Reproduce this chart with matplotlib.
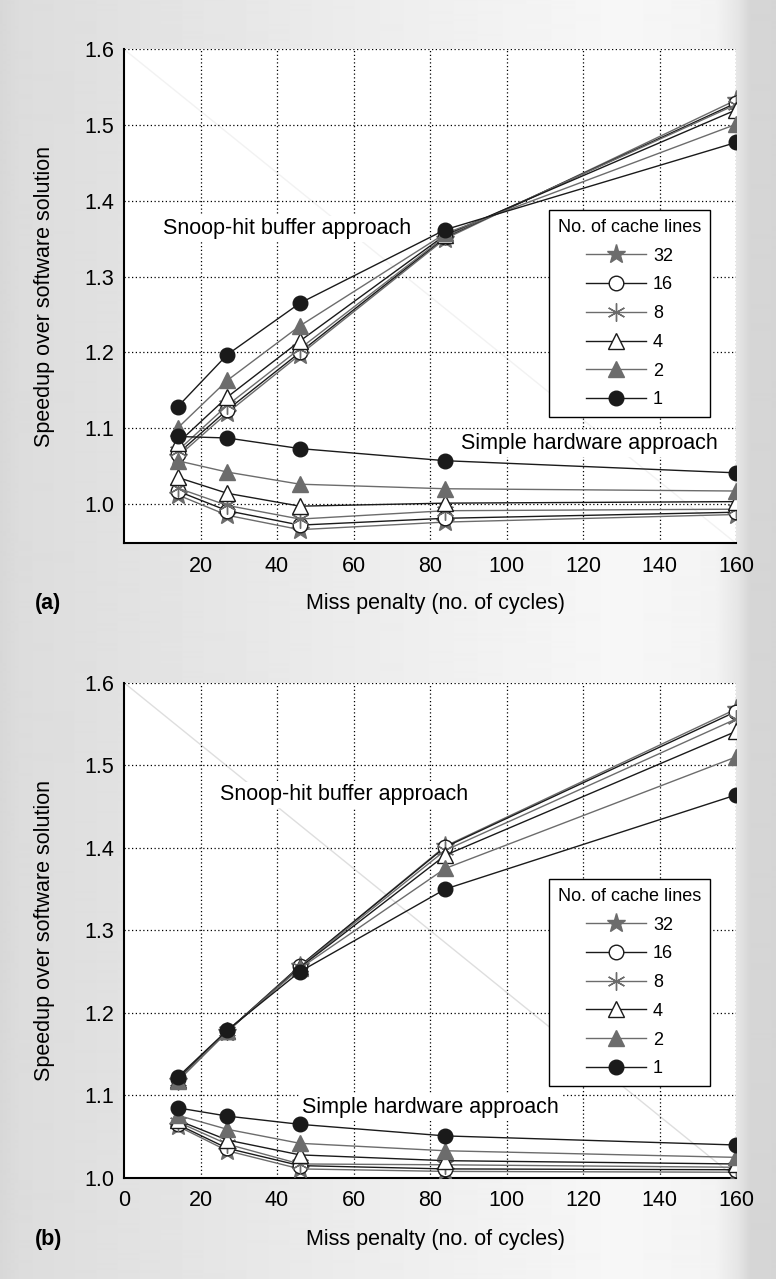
import numpy as np
import matplotlib
matplotlib.use('Agg')
import matplotlib.pyplot as plt

plt.rcParams['font.family'] = ['Liberation Sans', 'DejaVu Sans']

# miss penalty (cycles) on the x axis
miss_penalty = [14, 27, 46, 84, 160]
cache_lines = ['32', '16', '8', '4', '2', '1']

# panel (a)
snoop_a = {
	'32': [1.062, 1.120, 1.197, 1.350, 1.533],
	'16': [1.066, 1.124, 1.200, 1.352, 1.529],
	'8':  [1.070, 1.130, 1.205, 1.353, 1.527],
	'4':  [1.080, 1.141, 1.215, 1.355, 1.520],
	'2':  [1.100, 1.163, 1.235, 1.357, 1.501],
	'1':  [1.128, 1.197, 1.265, 1.362, 1.477],
}
simple_a = {
	'32': [1.012, 0.985, 0.966, 0.976, 0.986],
	'16': [1.017, 0.991, 0.972, 0.981, 0.989],
	'8':  [1.021, 0.998, 0.980, 0.991, 0.993],
	'4':  [1.035, 1.014, 0.997, 1.001, 1.003],
	'2':  [1.057, 1.042, 1.026, 1.020, 1.017],
	'1':  [1.089, 1.087, 1.073, 1.057, 1.041],
}

# panel (b)
snoop_b = {
	'32': [1.117, 1.177, 1.257, 1.402, 1.568],
	'16': [1.120, 1.178, 1.257, 1.401, 1.565],
	'8':  [1.118, 1.178, 1.256, 1.397, 1.556],
	'4':  [1.119, 1.178, 1.255, 1.391, 1.541],
	'2':  [1.118, 1.178, 1.254, 1.375, 1.510],
	'1':  [1.122, 1.179, 1.250, 1.350, 1.464],
}
simple_b = {
	'32': [1.063, 1.033, 1.011, 1.008, 1.007],
	'16': [1.065, 1.036, 1.015, 1.011, 1.010],
	'8':  [1.068, 1.041, 1.017, 1.016, 1.013],
	'4':  [1.070, 1.046, 1.028, 1.021, 1.017],
	'2':  [1.076, 1.059, 1.042, 1.033, 1.025],
	'1':  [1.085, 1.075, 1.065, 1.051, 1.040],
}

dark = '#1a1a1a'
grey = '#6c6c6c'
styles = {
	'32': dict(color=grey, marker='*', mfc=grey, mec=grey, ms=14),
	'16': dict(color=dark, marker='o', mfc='white', mec=dark, ms=10.5),
	'8':  dict(color=grey, marker=(6, 2, 0), mec=grey, ms=13),
	'4':  dict(color=dark, marker='^', mfc='white', mec=dark, ms=11.5),
	'2':  dict(color=grey, marker='^', mfc=grey, mec=grey, ms=11.5),
	'1':  dict(color=dark, marker='o', mfc=dark, mec=dark, ms=10.5),
}

W, H = 776, 1279
fig = plt.figure(figsize=(W/100., H/100.), dpi=100)

# grey page background, lighter towards the right, grey strip at the right edge
bg = fig.add_axes([0, 0, 1, 1], zorder=-10)
shade = np.interp(np.arange(W), [0, 20, 350, 620, 715, 738, 750, 776],
				  [0.845, 0.865, 0.925, 0.968, 0.955, 0.9, 0.84, 0.835])
bg.imshow(np.tile(shade, (2, 1)), cmap='gray', vmin=0, vmax=1, aspect='auto',
		  extent=[0, 1, 0, 1], interpolation='bilinear')
bg.axis('off')

FS = 15.5
box = dict(facecolor='white', edgecolor='none', pad=2)

def panel(rect, snoop, simple, ylim, xticks, snoop_xy, simple_xy, leg_anchor, diag):
	ax = fig.add_axes(rect)
	ax.set_facecolor('white')
	ax.plot([0, 1], [1, 0], transform=ax.transAxes, color=diag, lw=1, zorder=0)
	for k in cache_lines:
		ax.plot(miss_penalty, snoop[k], label=k, lw=1, mew=1, zorder=3, **styles[k])
	for k in cache_lines:
		ax.plot(miss_penalty, simple[k], lw=1, mew=1, zorder=3, **styles[k])

	ax.set_xlim(0, 160)
	ax.set_ylim(*ylim)
	ax.set_xticks(xticks)
	yt = np.arange(1.0, 1.61, 0.1)
	ax.set_yticks(yt)
	ax.set_yticklabels(['%.1f' % v for v in yt])
	for xv in range(20, 161, 20):
		ax.axvline(xv, color='black', lw=0.9, ls=(0, (1, 2)), zorder=1)
	for yv in yt:
		ax.axhline(yv, color='black', lw=0.9, ls=(0, (1, 2)), zorder=1)
	ax.tick_params(length=0, labelsize=15.5)
	ax.tick_params(axis='x', pad=9)
	ax.tick_params(axis='y', pad=7)
	ax.spines['top'].set_visible(False)
	ax.spines['right'].set_visible(False)
	ax.spines['left'].set_linewidth(1.5)
	ax.spines['bottom'].set_linewidth(1.5)

	ax.text(snoop_xy[0], snoop_xy[1], 'Snoop-hit buffer approach', fontsize=FS,
			va='center', ha='left', bbox=box, zorder=2)
	ax.text(simple_xy[0], simple_xy[1], 'Simple hardware approach', fontsize=FS,
			va='center', ha='left', bbox=box, zorder=2)

	leg = ax.legend(loc='upper right', bbox_to_anchor=leg_anchor, title='No. of cache lines',
					fontsize=13, title_fontsize=13, frameon=True, fancybox=False,
					framealpha=1, edgecolor='black', handlelength=3.3,
					handletextpad=0.4, labelspacing=0.65, borderpad=0.5,
					borderaxespad=0)
	leg.get_frame().set_linewidth(1)
	leg.set_zorder(20)
	return ax

ax_a = panel([124/776., 735.7/1279., 612/776., 494/1279.], snoop_a, simple_a,
			 (0.948, 1.6), np.arange(20, 161, 20), (10.2, 1.363), (88.1, 1.080),
			 (0.958, 0.675), '#f2f2f2')
ax_b = panel([124/776., 101/1279., 612/776., 495.3/1279.], snoop_b, simple_b,
			 (1.0, 1.6), np.arange(0, 161, 20), (25.2, 1.464), (46.6, 1.086),
			 (0.958, 0.604), '#dedede')

for ycen in [296.3, 930.3]:
	fig.text(45/776., 1 - ycen/1279., 'Speedup over software solution', fontsize=FS,
			 rotation=90, ha='center', va='center')
for ycen, tag in [(603, '(a)'), (1240, '(b)')]:
	fig.text(435/776., 1 - ycen/1279., 'Miss penalty (no. of cycles)', fontsize=FS,
			 ha='center', va='center')
	fig.text(35/776., 1 - ycen/1279., tag, fontsize=FS, fontweight='bold',
			 ha='left', va='center')

fig.savefig('out.png', dpi=100)
